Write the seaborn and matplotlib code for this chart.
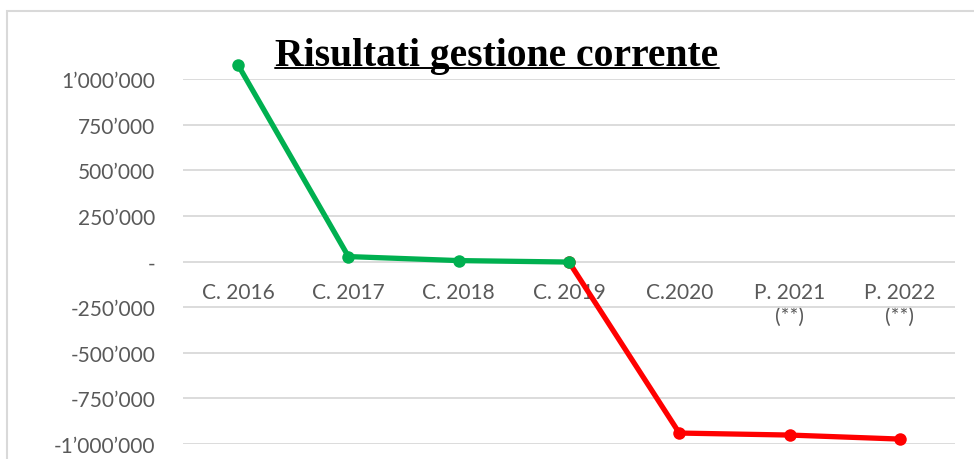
import matplotlib
matplotlib.use("Agg")
import matplotlib.pyplot as plt
import matplotlib.patches as mpatches
from matplotlib.lines import Line2D
import pandas as pd
import seaborn as sns

categories = ["C. 2016", "C. 2017", "C. 2018", "C. 2019", "C.2020", "P. 2021\n(**)", "P. 2022\n(**)"]
values = [1076000, 27000, 5000, -3000, -940000, -951000, -973000]
yticks = [1000000, 750000, 500000, 250000, 0, -250000, -500000, -750000, -1000000]
ytick_labels = ["1’000’000", "750’000", "500’000", "250’000", "-", "-250’000",
                "-500’000", "-750’000", "-1’000’000"]

df = pd.DataFrame({"pos": range(len(categories)), "val": values})
consuntivo = df.iloc[:4]
negativo = df.iloc[3:]

sns.set_theme(style="white")
plt.rcParams["font.family"] = ["Lato", "DejaVu Sans"]

fig = plt.figure(figsize=(9.74, 4.6), dpi=100)
ax = fig.add_axes([183 / 974, 1 - 445 / 460, (955 - 183) / 974, (445 - 80) / 460])

# chart frame (cut at right and bottom like the screenshot)
fig.patches.append(mpatches.Rectangle((7 / 974, -0.1), 1.1, 1 - 12 / 460 + 0.1,
                                      transform=fig.transFigure, fill=False,
                                      edgecolor="#d9d9d9", linewidth=1.5, zorder=0))

sns.lineplot(data=negativo, x="pos", y="val", ax=ax, color="#ff0000", linewidth=3.8,
             marker="o", markersize=9, markeredgewidth=0, clip_on=False, zorder=3)
sns.lineplot(data=consuntivo, x="pos", y="val", ax=ax, color="#00b050", linewidth=3.8,
             marker="o", markersize=9, markeredgewidth=0, clip_on=False, zorder=4)

ax.set_xlim(-0.5, len(categories) - 0.5)
ax.set_ylim(-1000000, 1000000)
ax.set_yticks(yticks)
ax.set_yticklabels(ytick_labels)
ax.set_xticks(range(len(categories)))
ax.set_xticklabels(categories, linespacing=1.55, va="top")
ax.set_xlabel("")
ax.set_ylabel("")
ax.grid(axis="y", color="#d9d9d9", linewidth=1.3)
ax.set_axisbelow(True)
for s in ax.spines.values():
    s.set_visible(False)
ax.spines["bottom"].set_position(("data", 0))
ax.tick_params(axis="both", length=0, labelsize=15, colors="#595959")
ax.tick_params(axis="x", pad=15)
ax.tick_params(axis="y", pad=20)

title = fig.text(497 / 974, 1 - 66 / 460, "Risultati gestione corrente", ha="center", va="baseline",
                 fontsize=28.5, fontweight="bold", family="Liberation Serif", color="black")
fig.canvas.draw()
bb = title.get_window_extent()
y_ul = 1 - 69 / 460
fig.lines.append(Line2D([bb.x0 / 974, bb.x1 / 974], [y_ul, y_ul], transform=fig.transFigure,
                        color="black", linewidth=1.4))

fig.savefig("out.png", dpi=100)
